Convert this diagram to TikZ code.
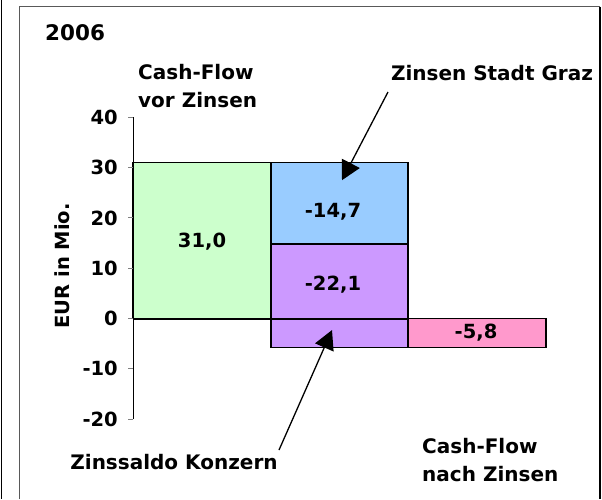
\documentclass[tikz,border=0pt]{standalone}
\usepackage{fontspec}
\setmainfont{DejaVu Sans}
\usetikzlibrary{arrows.meta}

\definecolor{cfgreen}{HTML}{CCFFCC}
\definecolor{grazblue}{HTML}{99CCFF}
\definecolor{konzlila}{HTML}{CC99FF}
\definecolor{nachpink}{HTML}{FF99CC}

\begin{document}
\begin{tikzpicture}[x=1pt,y=-1pt,
    lbl/.style={font=\bfseries\fontsize{20}{27.5}\selectfont,inner sep=0pt},
    num/.style={font=\bfseries\fontsize{19.5}{22}\selectfont,inner sep=0pt},
    bar/.style={draw=black,line width=1.3pt},
    pointer/.style={line width=1.3pt,-{Triangle[length=19pt,width=20pt]}}]

      \useasboundingbox (0,0) rectangle (602,499);

      % frame
      \draw[line width=1.2pt] (1.5,0) -- (1.5,499);
      \draw[line width=1.2pt,draw=black!65] (19.5,499) |- (600,6.5);
      \draw[line width=1.2pt] (600,6.5) -- (600,499);

      \draw (45,33) node[lbl,anchor=west,font=\bfseries\fontsize{21.5}{24}\selectfont] (year) {2006};

    % chart in Mio. EUR
    \begin{scope}[shift={(0,318.5)},y=5.03pt]
      \draw[bar,fill=cfgreen] (133,0) rectangle (271,31.0);
      \draw[bar,fill=grazblue] (271,31.0) rectangle (408,14.8);
      \draw[bar,fill=konzlila] (271,14.8) rectangle (408,-5.7);
      \draw[bar,fill=nachpink] (408,0) rectangle (546,-5.7);
      \draw[line width=2pt] (133,0) -- (408,0);

      \draw[line width=0.9pt] (133,40) -- (133,-20);
      \foreach \v in {40,30,...,-20} {
        \draw[gray,line width=0.9pt] (128,\v) -- (133,\v);
        \draw (118,\v) node[num,anchor=east] (tick\v) {\v};
      }

      \draw (202,15.2) node[num] (vor) {31,0};
      \draw (333,21.2) node[num] (graz) {-14,7};
      \draw (333,6.7) node[num] (konz) {-22,1};
      \draw (476,-2.9) node[num] (nach) {-5,8};

      \coordinate (grazTip) at (342,27.5);
      \coordinate (konzTip) at (332,-2.3);
    \end{scope}

      \draw (62,266) node[lbl,rotate=90,font=\bfseries\fontsize{19.5}{22}\selectfont] (unit) {EUR in Mio.};

      \draw (138,86) node[lbl,anchor=west,align=left] (cfVor) {Cash-Flow\\vor Zinsen};
      \draw (422,460) node[lbl,anchor=west,align=left] (cfNach) {Cash-Flow\\nach Zinsen};
      \draw (492,73.5) node[lbl] (lblGraz) {Zinsen Stadt Graz};
      \draw (174,462) node[lbl] (lblKonz) {Zinssaldo Konzern};

      \coordinate (grazFrom) at (388,92);
      \coordinate (konzFrom) at (279,450);
      \draw[pointer] (grazFrom) -- (grazTip);
      \draw[pointer] (konzFrom) -- (konzTip);

    \end{tikzpicture}
\end{document}
